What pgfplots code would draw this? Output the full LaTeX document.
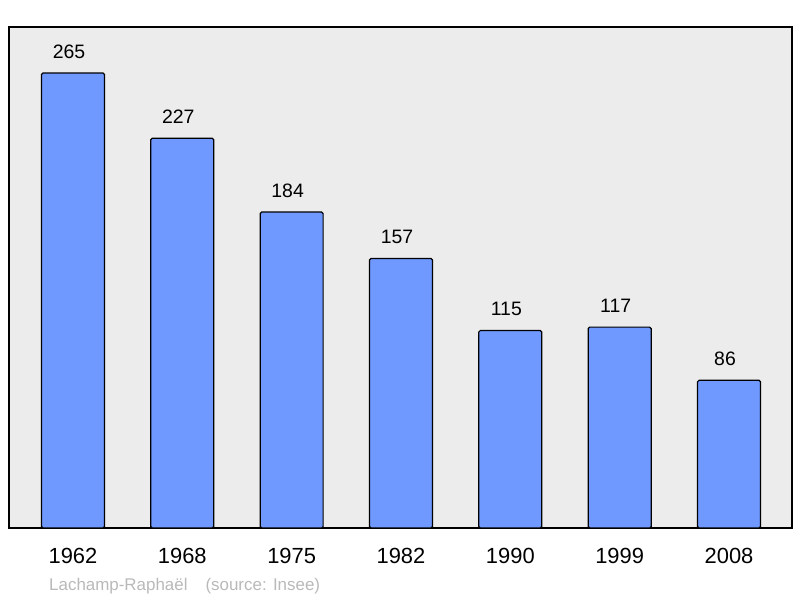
\documentclass[border=0pt]{standalone}
\usepackage{pgfplots}
\pgfplotsset{compat=1.18}
\usepackage{fontspec}
\setmainfont{Liberation Sans}
\definecolor{barblue}{RGB}{112,153,255}
\definecolor{bggray}{RGB}{236,236,236}
\definecolor{footgray}{RGB}{185,185,185}
\begin{document}
\begin{tikzpicture}
\useasboundingbox (0,0) rectangle (800bp,598bp);
\begin{axis}[
  at={(9bp,70bp)}, anchor=south west,
  scale only axis, width=783bp, height=501bp,
  xmin=-0.585, xmax=6.576, ymin=0, ymax=291.8,
  axis background/.style={fill=bggray},
  axis line style={line width=1.8bp, black},
  xtick=data,
  xticklabels={1962,1968,1975,1982,1990,1999,2008},
  ytick=\empty,
  major tick length=0pt,
  xticklabel style={font=\fontsize{22}{25}\selectfont, anchor=base, yshift=-36bp},
  /pgf/number format/assume math mode=true,
  nodes near coords,
  every node near coord/.append style={font=\fontsize{19.5}{22}\selectfont, anchor=base, yshift=15bp, xshift=-4bp, text=black},
  clip=false,
]
\addplot[ybar, bar width=0.576, fill=barblue, draw=black, line width=1.2bp, rounded corners=1.5bp]
  coordinates {(0,265) (1,227) (2,184) (3,157) (4,115) (5,117) (6,86)};
\end{axis}
\node[anchor=base west, text=footgray, font=\fontsize{17}{20}\selectfont, inner sep=0pt] at (49bp,8bp) {Lachamp-Raphaël\hspace{18bp}(source: Insee)};
\end{tikzpicture}
\end{document}
